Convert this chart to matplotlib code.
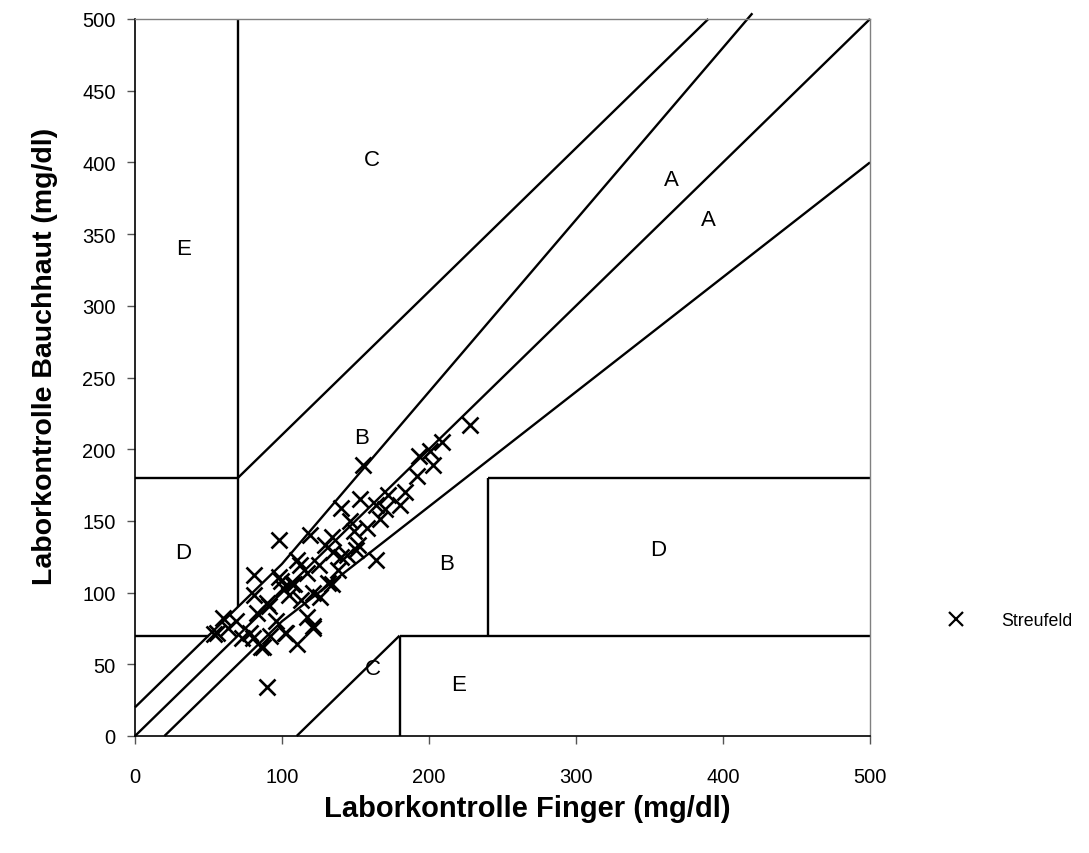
import matplotlib
matplotlib.use("Agg")
import matplotlib.pyplot as plt
from matplotlib.lines import Line2D
import numpy as np

plt.rcParams['font.family'] = ['Liberation Sans', 'DejaVu Sans']

# Glucose readings: finger (reference) vs. abdominal skin (mg/dl)
finger = [228, 209, 201, 193, 203, 192, 184, 172, 180, 155, 153, 140, 164, 167, 164,
          98, 119, 134, 149, 152, 144, 135, 129, 81, 98, 112, 117, 134, 108, 101,
          81, 90, 105, 121, 126, 117, 121, 110, 102, 92, 87, 96, 83, 60, 69, 56, 78,
          90, 99, 107, 131, 91, 54, 80, 103, 121, 86, 125, 140, 110, 146, 158, 170,
          63, 73, 113, 138, 150]
skin = [217, 205, 199, 195, 189, 181, 170, 168, 161, 189, 165, 159, 161, 151, 123,
        137, 140, 139, 143, 133, 126, 128, 133, 112, 111, 119, 114, 106, 106, 103,
        98, 93, 98, 100, 97, 83, 75, 64, 72, 70, 62, 80, 86, 82, 80, 72, 72,
        34, 108, 106, 107, 91, 71, 68, 72, 77, 62, 119, 125, 123, 150, 145, 158,
        75, 68, 95, 116, 130]

# Error-grid boundary lines (x values, y values)
zone_lines = [
    ([0, 100, 420], [20, 120, 504]),      # upper A: +20 mg/dl, then +20 %
    ([0, 500], [0, 500]),                 # identity
    ([20, 100, 500], [0, 80, 400]),       # lower A: -20 mg/dl, then -20 %
    ([70, 390], [180, 500]),              # upper B/C
    ([110, 180], [0, 70]),                # lower B/C
    ([70, 70], [90, 500]),                # left vertical
    ([0, 70], [180, 180]),
    ([0, 50], [70, 70]),
    ([180, 180], [0, 70]),
    ([180, 500], [70, 70]),
    ([240, 240], [70, 180]),
    ([240, 500], [180, 180]),
]

zone_labels = ['A', 'A', 'B', 'B', 'C', 'C', 'D', 'D', 'E', 'E']
zone_label_x = [365, 390, 154, 212, 161, 162, 33, 356, 33, 220]
zone_label_y = [388, 360, 208, 120, 402, 47, 128, 130, 340, 36]

fig = plt.figure(figsize=(10.89, 8.54), dpi=100)
ax = fig.add_axes([135 / 1089, 1 - 737 / 854, 735 / 1089, 717 / 854])

for xs, ys in zone_lines:
    ax.plot(xs, ys, color='black', lw=1.7, solid_capstyle='butt', clip_on=False, zorder=2)

ax.plot(finger, skin, linestyle='none', marker='x', markersize=12, markeredgewidth=1.9,
        color='black', zorder=3)

for t, x, y in zip(zone_labels, zone_label_x, zone_label_y):
    ax.text(x, y, t, fontsize=16, ha='center', va='center')

ax.set_xlim(0, 500)
ax.set_ylim(0, 500)
ax.set_xticks([0, 100, 200, 300, 400, 500])
ax.set_yticks(np.arange(0, 501, 50))
ax.tick_params(axis='both', direction='out', length=6, width=1, color='#555555',
               labelsize=14.5)
ax.tick_params(axis='x', pad=16)
ax.tick_params(axis='y', pad=8)

for side in ('left', 'bottom'):
    ax.spines[side].set_color('black')
    ax.spines[side].set_linewidth(1.2)
for side in ('top', 'right'):
    ax.spines[side].set_color('#808080')
    ax.spines[side].set_linewidth(1.0)

ax.set_xlabel('Laborkontrolle Finger (mg/dl)', fontsize=21, fontweight='bold', labelpad=8)
ax.xaxis.set_label_coords((527 - 135) / 735, -(809 - 737) / 717)
ax.xaxis.label.set_va('center')
ax.set_ylabel('Laborkontrolle Bauchhaut (mg/dl)', fontsize=20.5, fontweight='bold')
ax.yaxis.set_label_coords(-(135 - 45) / 735, (737 - 356) / 717)
ax.yaxis.label.set_va('center')

handle = Line2D([], [], linestyle='none', marker='x', markersize=10, markeredgewidth=1.6,
                color='black')
fig.legend([handle], ['Streufeld'], loc='center left', bbox_to_anchor=(936 / 1089, 1 - 622 / 854),
           frameon=False, fontsize=12.8, handlelength=1.2, handletextpad=1.95, borderpad=0)

fig.savefig('out.png', dpi=100)
